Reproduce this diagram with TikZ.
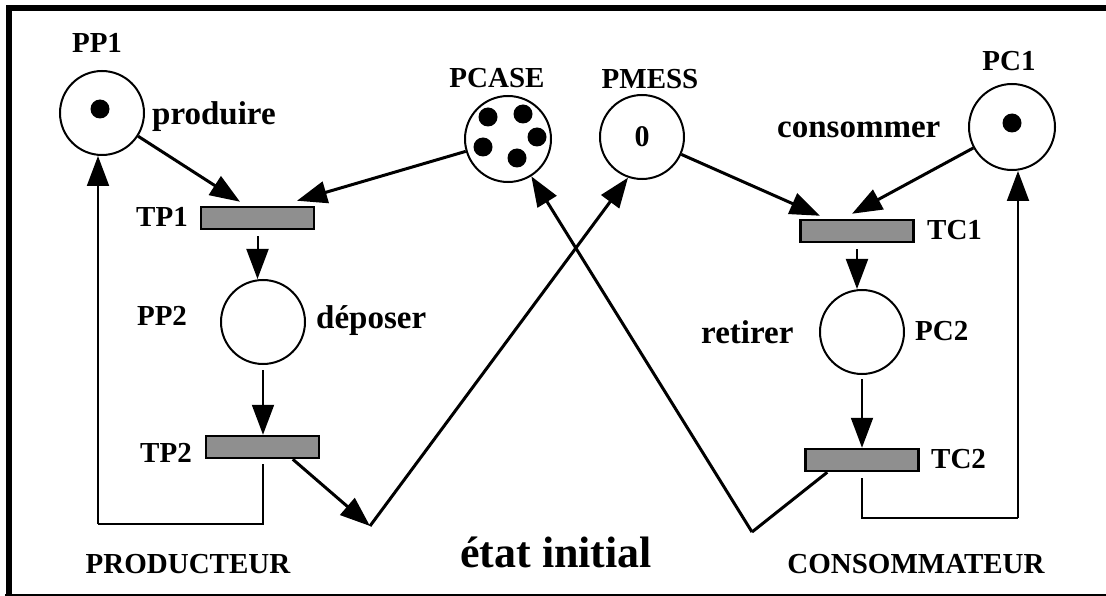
\documentclass[tikz,border=0pt]{standalone}
\usepackage{fontspec}
\setmainfont{Liberation Serif}
\usetikzlibrary{arrows.meta}
\definecolor{transgray}{HTML}{8F8F8F}
\begin{document}
\begin{tikzpicture}[x=1pt,y=-1pt,
  place/.style={circle,draw,line width=2pt,inner sep=0pt,minimum size=84pt},
  trans/.style={rectangle,draw,line width=2.5pt,fill=transgray,inner sep=0pt,minimum width=113pt,minimum height=22pt},
  token/.style={circle,fill=black,inner sep=0pt,minimum size=19pt},
  caps/.style={font=\fontsize{29}{31}\selectfont\bfseries,inner sep=0pt},
  word/.style={font=\fontsize{33}{35}\selectfont\bfseries,inner sep=0pt},
  heavyarc/.style={line width=3pt,-{Triangle[length=30pt,width=22pt]}},
  lightarc/.style={line width=2pt,-{Triangle[length=30pt,width=22pt]}},
  plainarc/.style={line width=2pt},
  frameline/.style={line cap=rect}]
\useasboundingbox (0,0) rectangle (1106,596);

% frame: heavy top and left edges, thin bottom edge
\draw[frameline,line width=6pt] (8.5,596) -- (8.5,8) -- (1106,8);
\draw[line width=1.5pt] (5,595) -- (1106,595);

% places
\node[place] (PP1) at (102,113) {};
\node[place,minimum size=86pt] (PCASE) at (508,139) {};
\node[place] (PMESS) at (642,137) {\fontsize{30}{32}\selectfont\bfseries 0};
\node[place,minimum size=86pt] (PC1) at (1012,127) {};
\node[place] (PP2) at (263,322) {};
\node[place] (PC2) at (862,332) {};

% tokens
\node[token] (tk1) at (100,109) {};
\node[token] (tk2) at (1012,123) {};
\node[token] (tc1) at (488,117) {};
\node[token] (tc2) at (523,114) {};
\node[token] (tc3) at (537,137) {};
\node[token] (tc4) at (517,158) {};
\node[token] (tc5) at (483,147) {};

% transitions
\node[trans] (TP1) at (257.5,218) {};
\node[trans] (TP2) at (262.5,447) {};
\node[trans] (TC1) at (857,231) {};
\node[trans] (TC2) at (862,460) {};

% labels
\node[caps,anchor=base] (lPP1) at (97,53) {PP1};
\node[word,anchor=base west] (lprod) at (152,125) {produire};
\node[caps,anchor=base] (lPCASE) at (497,88) {PCASE};
\node[caps,anchor=base] (lPMESS) at (650,89) {PMESS};
\node[word,anchor=base west] (lcons) at (777,138) {consommer};
\node[caps,anchor=base] (lPC1) at (1009,71) {PC1};
\node[caps,anchor=base] (lTP1) at (162,227) {TP1};
\node[caps,anchor=base west] (lTC1) at (927,240) {TC1};
\node[caps,anchor=base] (lPP2) at (162,325) {PP2};
\node[word,anchor=base west] (ldep) at (316,328) {déposer};
\node[caps,anchor=base] (lTP2) at (166,462) {TP2};
\node[word,anchor=base west] (lret) at (701,343) {retirer};
\node[caps,anchor=base west] (lPC2) at (915,340) {PC2};
\node[caps,anchor=base west] (lTC2) at (931,468) {TC2};
\node[caps,anchor=base] (lprodu) at (188,573) {PRODUCTEUR};
\node[font=\fontsize{44}{46}\selectfont\bfseries,inner sep=0pt,anchor=base west] (letat) at (460,567) {état initial};
\node[caps,anchor=base] (lconso) at (916,573) {CONSOMMATEUR};

% bend points
\coordinate (vP) at (370,526);
\coordinate (vC) at (752,532);
\coordinate (fbP) at (98,524);
\coordinate (fbC) at (1018,518);

% producer side
\draw[heavyarc] (PP1) -- ([xshift=-17.5pt,yshift=4pt]TP1.north);
\draw[heavyarc] (PCASE) -- ([xshift=39.5pt,yshift=5pt]TP1.north);
\draw[lightarc] ([yshift=-6pt]TP1.south) -- (TP1.south |- PP2.north);
\draw[lightarc] ([yshift=-5pt]PP2.south) -- (PP2.south |- TP2.north);
\draw[plainarc] ([yshift=-5pt]TP2.south) -- (TP2.south |- fbP) -- (fbP);
\draw[lightarc] (fbP) -- ([xshift=-4pt]PP1.south);
\draw[heavyarc] ([xshift=-27.5pt]TP2.south east) -- (vP);
\draw[heavyarc] (vP) -- (PMESS.-109);

% consumer side
\draw[heavyarc] (PMESS) -- ([xshift=-37pt,yshift=3pt]TC1.north);
\draw[heavyarc] (PC1) -- ([xshift=-5pt,yshift=5pt]TC1.north);
\draw[lightarc] ([yshift=-6pt]TC1.south) -- (TC1.south |- PC2.north);
\draw[lightarc] ([yshift=-4pt]PC2.south) -- (PC2.south |- TC2.north);
\draw[plainarc] ([yshift=-6pt]TC2.south) -- (TC2.south |- fbC) -- (fbC);
\draw[lightarc] (fbC) -- ([xshift=6pt]PC1.south);
\draw[heavyarc,-] ([xshift=23pt]TC2.south west) -- (vC);
\draw[heavyarc] (vC) -- (PCASE.-58);
\end{tikzpicture}
\end{document}
